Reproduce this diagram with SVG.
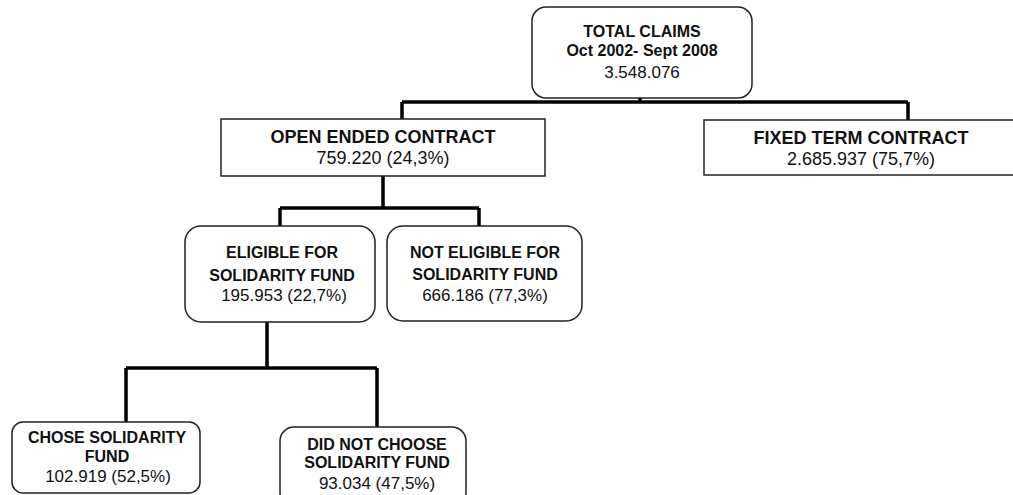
<svg xmlns="http://www.w3.org/2000/svg" width="1013" height="495" viewBox="0 0 1013 495">
<style>
.box{fill:#fff;stroke:#222;stroke-width:1.5}
.b{font-family:"Liberation Sans",Arial,sans-serif;font-weight:bold;font-size:16px;fill:#111;text-anchor:middle}
.r{font-family:"Liberation Sans",Arial,sans-serif;font-size:17px;fill:#111;text-anchor:middle}
.big{font-size:18px}
.conn{fill:none;stroke:#000;stroke-width:3.5}
</style>
<rect width="1013" height="495" fill="#fff"/>
<g id="connectors">
<path class="conn" d="M640,98 V102 M402,102 H908 M402,102 V119 M908,102 V120"/>
<path class="conn" d="M383,176 V208 M280,208 H479 M280,208 V226 M479,208 V226"/>
<path class="conn" d="M267,322 V368 M126,368 H377 M126,368 V422 M377,368 V427"/>
</g>
<g id="total">
<rect class="box" x="532" y="7" width="220" height="91" rx="14"/>
<text class="b" x="642" y="37">TOTAL CLAIMS</text>
<text class="b" x="642" y="56">Oct 2002- Sept 2008</text>
<text class="r" x="642" y="78">3.548.076</text>
</g>
<g id="open">
<rect class="box" x="221" y="119" width="324" height="57"/>
<text class="b big" x="383" y="143">OPEN ENDED CONTRACT</text>
<text class="r big" x="383" y="164">759.220 (24,3%)</text>
</g>
<g id="fixed">
<rect class="box" x="704" y="120" width="312" height="55"/>
<text class="b big" x="861" y="144">FIXED TERM CONTRACT</text>
<text class="r big" x="861" y="165">2.685.937 (75,7%)</text>
</g>
<g id="eligible">
<rect class="box" x="185" y="226" width="190" height="96" rx="16"/>
<text class="b" x="282" y="258">ELIGIBLE FOR</text>
<text class="b" x="282" y="281">SOLIDARITY FUND</text>
<text class="r" x="284" y="301">195.953 (22,7%)</text>
</g>
<g id="noteligible">
<rect class="box" x="387" y="226" width="195" height="95" rx="16"/>
<text class="b" x="485" y="258">NOT ELIGIBLE FOR</text>
<text class="b" x="485" y="280">SOLIDARITY FUND</text>
<text class="r" x="485" y="301">666.186 (77,3%)</text>
</g>
<g id="chose">
<rect class="box" x="12" y="422" width="188" height="71" rx="11"/>
<text class="b" x="107" y="443">CHOSE SOLIDARITY</text>
<text class="b" x="107" y="462">FUND</text>
<text class="r" x="108" y="482">102.919 (52,5%)</text>
</g>
<g id="notchose">
<rect class="box" x="280" y="427" width="186" height="80" rx="14"/>
<text class="b" x="377" y="450">DID NOT CHOOSE</text>
<text class="b" x="377" y="468">SOLIDARITY FUND</text>
<text class="r" x="377" y="489">93.034 (47,5%)</text>
</g>
</svg>
